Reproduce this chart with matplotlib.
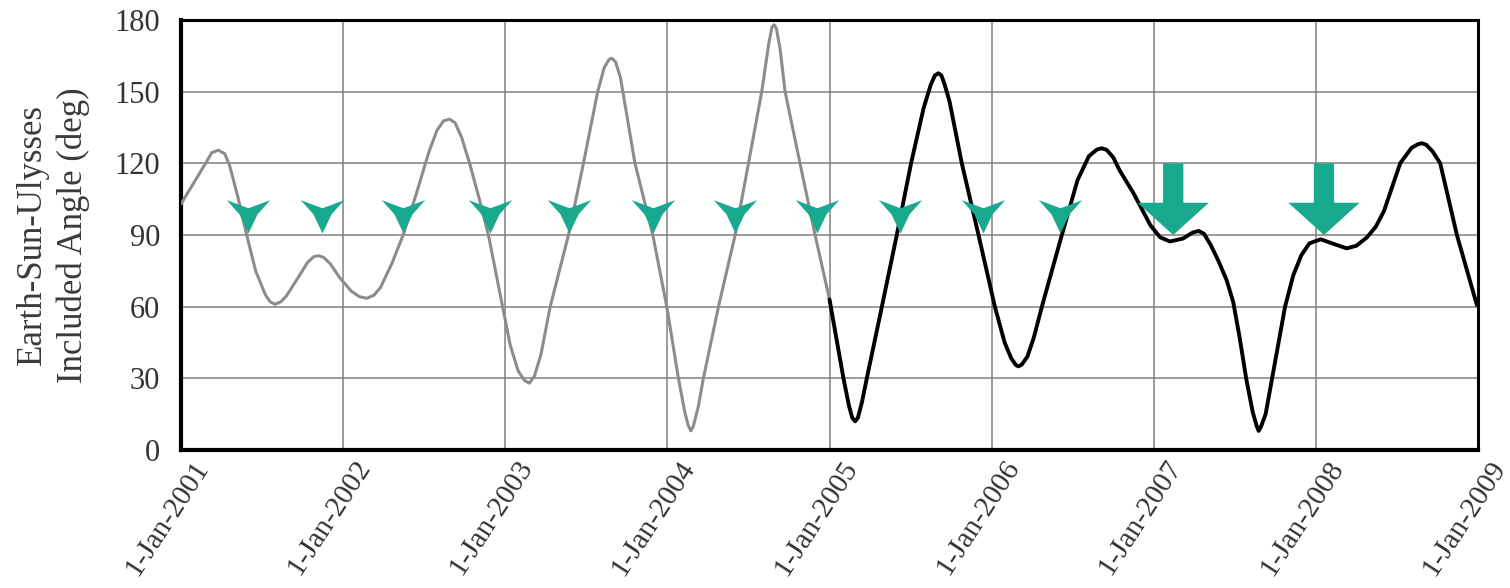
import numpy as np
import matplotlib
matplotlib.use("Agg")
import matplotlib.pyplot as plt
from matplotlib.path import Path
from matplotlib.transforms import ScaledTranslation

# angle, gray part (2001-2005)
gray_t = [2001.00, 2001.08, 2001.16, 2001.19, 2001.23, 2001.27, 2001.30, 2001.35, 2001.405, 2001.46,
          2001.52, 2001.55, 2001.58, 2001.615, 2001.65, 2001.73, 2001.78, 2001.82, 2001.85, 2001.88,
          2001.92, 2001.98, 2002.05, 2002.10, 2002.145, 2002.19, 2002.23, 2002.30, 2002.37, 2002.45,
          2002.53, 2002.58, 2002.62, 2002.655, 2002.69, 2002.73, 2002.78, 2002.84, 2002.896, 2002.96,
          2003.03, 2003.08, 2003.12, 2003.149, 2003.18, 2003.22, 2003.277, 2003.39, 2003.482, 2003.57,
          2003.61, 2003.64, 2003.657, 2003.68, 2003.71, 2003.75, 2003.80, 2003.91, 2003.996, 2004.068,
          2004.11, 2004.13, 2004.144, 2004.16, 2004.19, 2004.222, 2004.315, 2004.418, 2004.50, 2004.582,
          2004.625, 2004.645, 2004.658, 2004.672, 2004.695, 2004.726, 2004.818, 2004.911, 2005.00]
gray_deg = [103, 112, 121, 124.5, 125.5, 124, 119, 106, 90, 75,
            65, 62, 61, 62, 64.5, 73, 78.5, 81, 81.3, 80.6,
            78, 72, 66.5, 64.2, 63.5, 64.8, 68, 78, 90, 107,
            125, 134, 137.8, 138.5, 137, 131, 120, 105, 90, 68,
            44, 33, 29, 28, 31, 40, 60, 90, 120, 150,
            160, 163.5, 164, 162.5, 156, 140, 120, 90, 60, 30,
            15, 10, 8, 10, 18, 30, 60, 90, 120, 150,
            170, 177, 178, 176.5, 168, 150, 120, 90, 63]

# black part (2005-2009)
black_t = [2005.00, 2005.086, 2005.12, 2005.14, 2005.158, 2005.175, 2005.20, 2005.23, 2005.323, 2005.415,
           2005.503, 2005.58, 2005.625, 2005.65, 2005.672, 2005.69, 2005.71, 2005.74, 2005.816, 2005.919,
           2006.02, 2006.08, 2006.12, 2006.15, 2006.165, 2006.185, 2006.22, 2006.26, 2006.31, 2006.433,
           2006.53, 2006.60, 2006.65, 2006.68, 2006.71, 2006.75, 2006.79, 2006.875, 2006.98, 2007.04,
           2007.10, 2007.18, 2007.24, 2007.277, 2007.31, 2007.35, 2007.40, 2007.45, 2007.49, 2007.53,
           2007.57, 2007.61, 2007.635, 2007.647, 2007.66, 2007.69, 2007.73, 2007.81, 2007.86, 2007.91,
           2007.96, 2008.03, 2008.10, 2008.19, 2008.25, 2008.315, 2008.37, 2008.42, 2008.47, 2008.52,
           2008.59, 2008.63, 2008.654, 2008.68, 2008.72, 2008.767, 2008.87, 2008.993]
black_deg = [63, 30, 18.5, 13.5, 12, 13.5, 20, 30, 60, 90,
             120, 143, 153, 156.8, 157.7, 156.8, 153, 146, 120, 90,
             60, 45, 38.5, 35.5, 35, 35.7, 39, 47, 60, 90,
             113, 123, 125.8, 126.3, 125.6, 122.5, 117, 107.5, 94, 89,
             87.3, 88.5, 91, 91.7, 90.5, 86, 79, 71, 62, 47,
             30, 16, 10, 8, 9.5, 15, 30, 60, 73, 81.5,
             86.5, 88.2, 86.5, 84.4, 85.5, 89, 93.5, 100, 110, 120,
             126.5, 128, 128.4, 127.8, 125, 120, 90, 60.7]

# small arrowheads along the 90 deg line
tip_t = [2001.41, 2001.87, 2002.37, 2002.905, 2003.39, 2003.91, 2004.42, 2004.925, 2005.435, 2005.945, 2006.42]
tip_deg = [91] * len(tip_t)

# two big arrows
big_t = [2007.12, 2008.05]
big_top = [120, 120]
big_tip = [90, 90]

years = list(range(2001, 2010))
year_labels = ["1-Jan-%d" % y for y in years]
yticks = [0, 30, 60, 90, 120, 150, 180]

teal = "#18a98f"
serif = "Liberation Serif"
txt = "#333333"

fig = plt.figure(figsize=(15.1, 5.88), dpi=100)
ax = fig.add_axes([0.1199, 0.2347, 0.8589, 0.7313])

ax.plot(gray_t, gray_deg, color="#8c8c8c", lw=2.2, zorder=3,
        solid_joinstyle="round", solid_capstyle="round")
ax.plot(black_t, black_deg, color="black", lw=2.8, zorder=3,
        solid_joinstyle="round", solid_capstyle="round")

# arrowhead marker, tip at origin
head = Path([(0, 0), (-9, 19), (-21.5, 33), (0, 25), (21.5, 33), (9, 19), (0, 0)],
            [Path.MOVETO] + [Path.LINETO] * 5 + [Path.CLOSEPOLY])
ax.plot(tip_t, tip_deg, ls="none", marker=head, ms=48, color=teal, mec="none", zorder=4)

for x, y0, y1 in zip(big_t, big_top, big_tip):
    ax.arrow(x, y0, 0, y1 - y0, width=0.125, head_width=0.44, head_length=13.5,
             length_includes_head=True, color=teal, lw=0, zorder=4)

ax.set_xlim(2001, 2009)
ax.set_ylim(0, 180)
ax.set_xticks(years)
ax.set_xticklabels(year_labels, rotation=57, ha="right", va="center",
                   rotation_mode="anchor", fontsize=21, family=serif, color=txt)
ax.set_yticks(yticks)
ax.set_yticklabels([str(v) for v in yticks], fontsize=22, family=serif, color=txt)
ax.tick_params(axis="both", length=0)
ax.tick_params(axis="y", pad=15)
ax.tick_params(axis="x", pad=2)

off = ScaledTranslation(22 / 100, -10 / 100, fig.dpi_scale_trans)
for lab in ax.get_xticklabels():
    lab.set_transform(lab.get_transform() + off)

ax.grid(True, color="#808080", lw=1.1)
ax.set_axisbelow(True)
for side in ["left", "bottom"]:
    ax.spines[side].set_linewidth(3.0)
for side in ["top", "right"]:
    ax.spines[side].set_linewidth(2.2)

ax.set_ylabel("Earth-Sun-Ulysses\nIncluded Angle (deg)", fontsize=25, family=serif,
              color="#3a3a3a", linespacing=1.3, labelpad=18)

fig.savefig("out.png", dpi=100, facecolor="white")
